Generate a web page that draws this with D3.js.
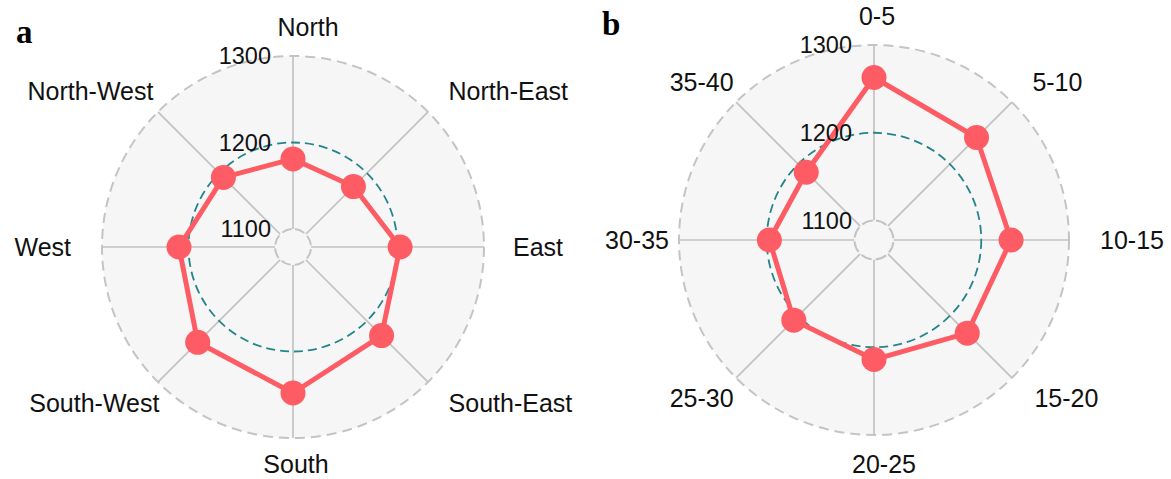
<!DOCTYPE html>
<html>
<head>
<meta charset="utf-8">
<script src="https://cdn.jsdelivr.net/npm/d3@7"></script>
<style>
  html, body { margin: 0; padding: 0; background: #fff; }
  svg { display: block; }
</style>
</head>
<body>
<svg id="chart" width="1171" height="479"></svg>
<script>
// Panel a: mean value by direction
const directions = ["North", "North-East", "East", "South-East", "South", "South-West", "West", "North-West"];
const directionValues = [1181, 1178, 1203, 1224, 1248, 1235, 1211, 1193];

// Panel b: mean value by distance band
const bands = ["0-5", "5-10", "10-15", "15-20", "20-25", "25-30", "30-35", "35-40"];
const bandValues = [1263, 1243, 1234, 1228, 1214, 1207, 1197, 1187];

// Radial axis
const radialDomain = [1100, 1300];
const radialTicks = [1100, 1200, 1300];
const referenceValue = 1200;

const svg = d3.select("#chart");

const COLORS = {
  disk: "#f6f6f6",
  grid: "#c2c2c2",
  ring: "#c4c4c4",
  reference: "#23858b",
  series: "#fe5c65",
  text: "#111"
};

function drawRadar(opts) {
  const { cx, cy, outer, hole, cats, values, letter, letterPos, nudges, lift } = opts;
  const g = svg.append("g").attr("transform", `translate(${cx},${cy})`);
  const n = cats.length;

  const r = d3.scaleLinear().domain(radialDomain).range([hole, outer]);
  const angle = d3.scaleLinear().domain([0, n]).range([0, 2 * Math.PI]);

  // background disk
  g.append("circle").attr("r", outer).attr("fill", COLORS.disk);

  // spokes
  g.selectAll("line.spoke").data(cats).join("line")
    .attr("class", "spoke")
    .attr("x1", (d, i) => Math.sin(angle(i)) * hole)
    .attr("y1", (d, i) => -Math.cos(angle(i)) * hole)
    .attr("x2", (d, i) => Math.sin(angle(i)) * outer)
    .attr("y2", (d, i) => -Math.cos(angle(i)) * outer)
    .attr("stroke", COLORS.grid)
    .attr("stroke-width", 1.7);

  // outer boundary
  g.append("circle").attr("r", outer)
    .attr("fill", "none").attr("stroke", COLORS.ring)
    .attr("stroke-width", 2).attr("stroke-dasharray", "10,6");

  // inner hole boundary, gaps centred on the spokes
  const holeCirc = 2 * Math.PI * hole;
  const seg = holeCirc / n;
  g.append("circle").attr("r", hole)
    .attr("fill", COLORS.disk).attr("stroke", COLORS.ring)
    .attr("stroke-width", 2)
    .attr("transform", "rotate(-90)")
    .attr("stroke-dasharray", `${seg - 4},4`)
    .attr("stroke-dashoffset", -2);

  // reference ring
  g.append("circle").attr("r", r(referenceValue))
    .attr("fill", "none").attr("stroke", COLORS.reference)
    .attr("stroke-width", 1.8).attr("stroke-dasharray", "9,5");

  // series polygon
  const line = d3.lineRadial()
    .angle((d, i) => angle(i))
    .radius(d => r(d))
    .curve(d3.curveLinearClosed);
  g.append("path").datum(values)
    .attr("d", line)
    .attr("fill", "none")
    .attr("stroke", COLORS.series)
    .attr("stroke-width", 5)
    .attr("stroke-linejoin", "round");

  g.selectAll("circle.pt").data(values).join("circle")
    .attr("class", "pt")
    .attr("cx", (d, i) => Math.sin(angle(i)) * r(d))
    .attr("cy", (d, i) => -Math.cos(angle(i)) * r(d))
    .attr("r", 12.5)
    .attr("fill", COLORS.series);

  // radial tick labels along the vertical axis
  g.selectAll("text.rtick").data(radialTicks).join("text")
    .attr("class", "rtick")
    .attr("x", -22)
    .attr("y", d => -r(d))
    .attr("dy", "0.36em")
    .attr("text-anchor", "end")
    .attr("font-family", "'Liberation Sans', Arial, sans-serif")
    .attr("font-size", 23.5)
    .attr("fill", COLORS.text)
    .text(d => d);

  // category labels
  const labelR = outer + 29;
  g.selectAll("text.cat").data(cats).join("text")
    .attr("class", "cat")
    .attr("x", (d, i) => Math.sin(angle(i)) * labelR + nudges[i])
    .attr("y", (d, i) => -Math.cos(angle(i)) * labelR - lift[i])
    .attr("dy", "0.36em")
    .attr("text-anchor", (d, i) => {
      const s = Math.sin(angle(i));
      return Math.abs(s) < 0.1 ? "middle" : (s > 0 ? "start" : "end");
    })
    .attr("font-family", "'Liberation Sans', Arial, sans-serif")
    .attr("font-size", 25)
    .attr("fill", COLORS.text)
    .text(d => d);

  // panel letter
  svg.append("text")
    .attr("x", letterPos[0]).attr("y", letterPos[1])
    .attr("font-family", "'Liberation Serif', 'Times New Roman', serif")
    .attr("font-weight", "bold")
    .attr("font-size", 33)
    .attr("fill", "#000")
    .text(letter);
}

drawRadar({
  cx: 293, cy: 247, outer: 191, hole: 18,
  cats: directions, values: directionValues,
  letter: "a", letterPos: [16, 43],
  nudges: [15, 0, 0, 0, 3, 22, -2, 16],
  lift: [0, 0, 0, 0, 3, 0, 0, 0]
});

drawRadar({
  cx: 874, cy: 240, outer: 195, hole: 19.5,
  cats: bands, values: bandValues,
  letter: "b", letterPos: [602, 35],
  nudges: [3, 0, 2, 2, 10, 18, 19, 18],
  lift: [0, 0, 0, 0, 0, 0, 0, 0]
});
</script>
</body>
</html>
